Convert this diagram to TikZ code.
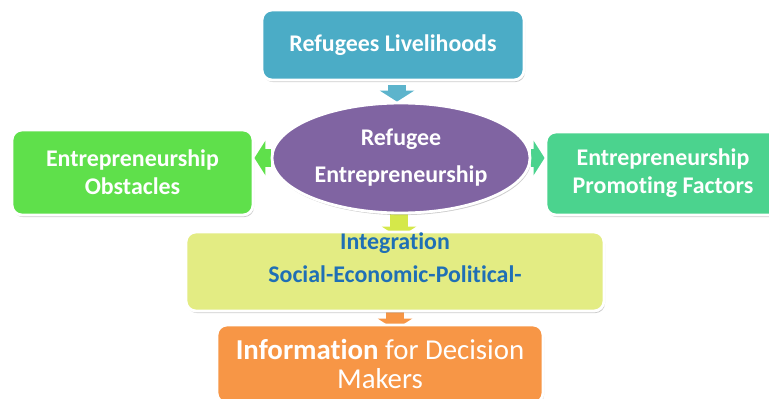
\documentclass[tikz,border=0pt]{standalone}
\usepackage{fontspec}
\setmainfont{Carlito}[Ligatures=NoCommon]
\usetikzlibrary{shapes.geometric,shadows,backgrounds,arrows.meta}
\definecolor{livelicol}{HTML}{4BACC6}
\definecolor{refentcol}{HTML}{8064A2}
\definecolor{obstcol}{HTML}{5FE04B}
\definecolor{promcol}{HTML}{4BD38E}
\definecolor{integcol}{HTML}{E3EC83}
\definecolor{integarr}{HTML}{D5E84A}
\definecolor{infocol}{HTML}{F79646}
\definecolor{integtxtcol}{HTML}{1F6FB5}
\tikzset{
	box/.style={rectangle, rounded corners=2mm, draw=white, line width=1.6pt, drop shadow={shadow xshift=0.6pt, shadow yshift=-1.2pt, opacity=0.4}, text=white, font=\bfseries\fontsize{13.6}{16}\selectfont, align=center, inner sep=0pt},
	blockarrow/.style={line width=0.36cm, -{Triangle[width=0.68cm,length=0.22cm]}},
}
\begin{document}
\begin{tikzpicture}
		\useasboundingbox (0,0) rectangle (15.38,7.96);
		
		\node[box, fill=livelicol, minimum width=5.24cm, minimum height=1.4cm] (liveli) at (7.86,7.06) {Refugees Livelihoods};
		\node[box, ellipse, fill=refentcol, minimum width=5.16cm, minimum height=2.2cm] (refent) at (8.02,4.8) {Refugee\\[5pt]Entrepreneurship};
		\node[box, fill=obstcol, minimum width=4.82cm, minimum height=1.7cm] (obst) at (2.65,4.51) {Entrepreneurship\\Obstacles};
		\node[box, fill=promcol, minimum width=4.68cm, minimum height=1.66cm] (prom) at (13.26,4.49) {Entrepreneurship\\Promoting Factors};
		\node[box, fill=integcol, minimum width=8.36cm, minimum height=1.58cm] (integ) at (7.9,2.53) {};
		\node[text=integtxtcol, font=\bfseries\fontsize{13.6}{16}\selectfont, align=center] (integtxt) at ([yshift=0.28cm]integ.center) {Integration\\[3pt]Social-Economic-Political-};
		\node[box, fill=infocol, minimum width=6.52cm, minimum height=1.56cm, font=\fontsize{16.4}{16.8}\selectfont] (info) at (7.6,0.68) {\textbf{Information} for Decision\\Makers};
		
		\begin{scope}[on background layer]
			\draw[blockarrow, livelicol!90!white, shorten <=0.08cm] ([xshift=-0.08cm]refent.north |- liveli.south) -- ([xshift=-0.08cm]refent.north);
			\draw[blockarrow, obstcol] (refent.west) -- (refent.west -| obst.east);
			\draw[blockarrow, promcol] (refent.east) -- (refent.east -| prom.west);
			\draw[blockarrow, integarr, shorten >=-0.14cm] ([xshift=-0.04cm]refent.south) -- ([xshift=-0.04cm]refent.south |- integ.north);
			\draw[blockarrow, infocol, shorten >=-0.12cm] (integ.south) -- (integ.south |- info.north);
		\end{scope}
	\end{tikzpicture}
\end{document}
